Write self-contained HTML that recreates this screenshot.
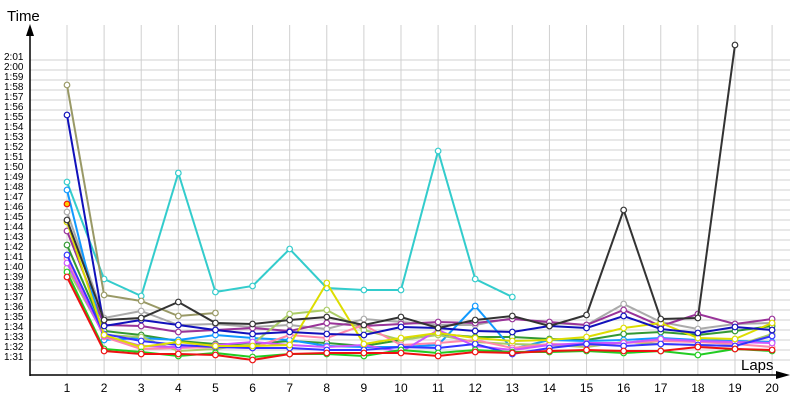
<!DOCTYPE html>
<html><head><meta charset="utf-8"><style>
body{margin:0;background:#fff}
svg{display:block;font-family:"Liberation Sans",sans-serif}
</style></head><body>
<svg id="c" width="800" height="400"></svg>
<script>
const laps=[1,2,3,4,5,6,7,8,9,10,11,12,13,14,15,16,17,18,19,20];
const tickSeconds=[91,92,93,94,95,96,97,98,99,100,101,102,103,104,105,106,107,108,109,110,111,112,113,114,115,116,117,118,119,120,121];
const cyan=[108.8,99.1,97.4,109.7,97.8,98.4,102.1,98.2,98.0,98.0,111.9,99.1,97.3];
const olive=[118.5,97.5,96.9,95.4,95.7];
const darkgray=[105,95,95.2,96.8,94.7,94.6,95,95.3,94.5,95.3,94.2,95,95.4,94.4,95.5,106,95.1,95.2,122.5];
const lightgray=[105.8,95.2,95.9,94.5,94.6,94.3,94.5,94.1,95.1,94.8,94.5,94.5,95.2,94.7,94.5,96.6,94.8,94.1,94.6,94.7];
const purple=[103.9,94.5,94.4,93.8,94,94.2,93.9,94.7,94.4,94.6,94.8,94.7,95.1,94.8,94.5,96,94.4,95.6,94.6,95.1];
const navy=[115.5,94.4,95,94.5,94,93.6,93.8,93.6,93.5,94.3,94.2,93.9,93.8,94.4,94.2,95.4,94.1,93.7,94.3,94];
const green=[102.5,93.9,93.5,92.9,92.6,92.6,92.9,92.7,92.4,93,93.6,93.3,93.3,93.1,93,93.6,93.8,93.5,93.9,94.4];
const skyblue=[108,93,93.2,93,93.5,93.2,93,92.4,92.3,92.3,92.5,96.4,92.1,93,92.9,93,93.2,93,92.9,92.8];
const yellow=[104.8,93.5,92.3,92.8,92.4,92.4,92.5,98.7,92.6,93.2,93.7,93.2,92.9,93,93.3,94.2,94.7,93.2,93.1,94.7];
const lime=[100.2,93.5,93.3,91.9,92.1,92.6,95.6,96,94,93,93.5,92.8,92.6,92.5,92.3,92.8,92.6,92.5,92.4,93.6];
const pink=[101.2,93.3,92.1,92.2,92.3,92.2,93.5,93.2,94.5,92.5,92.7,93,92.2,92.6,92.5,92.7,92.9,92.8,92.6,92.3];
const magenta=[100.7,93.4,92.4,92.3,92.5,92.8,92.5,92.3,92.5,91.8,94,92.4,92,92.5,92.7,92.7,93.1,92.9,92.8,92.7];
const blue=[101.5,93.6,92.9,92.5,92.3,92.2,92.2,92,92,92.3,92.2,92.6,91.6,92.2,92.6,92.4,92.6,92.5,92.4,93.4];
const brightgreen=[99.8,92.1,91.8,91.4,91.7,91.3,91.6,91.6,91.4,92,91.7,92,91.8,91.8,91.9,91.7,91.9,91.5,92.1,91.9];
const red=[99.3,91.9,91.6,91.6,91.5,91,91.6,91.7,91.7,91.7,91.4,91.8,91.7,91.9,92,91.9,91.9,92.3,92.1,92];
const seriesList=[
 ['cyan',cyan,'#33cccc'],['olive',olive,'#999966'],['light-gray',lightgray,'#aaaaaa'],
 ['purple',purple,'#993399'],['green',green,'#339933'],['sky-blue',skyblue,'#1199ff'],
 ['lime',lime,'#aacc66'],['pink',pink,'#ff88aa'],['magenta',magenta,'#cc55ff'],
 ['blue',blue,'#3333ff'],['yellow',yellow,'#dddd00'],['bright-green',brightgreen,'#22cc22'],
 ['red',red,'#ee1111'],['navy',navy,'#1111bb'],['dark-gray',darkgray,'#333333']];
const NS='http://www.w3.org/2000/svg',svg=document.getElementById('c');
function X(l){return 67+(l-1)*37.11;}
function Y(s){return 360-(s-91)*10;}
function el(t,a,p){const e=document.createElementNS(NS,t);for(const k in a)e.setAttribute(k,a[k]);(p||svg).appendChild(e);return e;}
const grid=el('g',{});


tickSeconds.forEach(s=>{
 const l=el('line',{x1:30,x2:790,y1:Y(s),y2:Y(s),stroke:'#d0d0d0','stroke-width':1},grid);
 
 
 const t=el('text',{x:4,y:Y(s)-0,'font-size':10,fill:'#000'});
 t.textContent=Math.floor(s/60)+':'+String(s%60).padStart(2,'0');
 
 
});
laps.forEach(l=>{
 const g=el('line',{x1:X(l),x2:X(l),y1:25,y2:375,stroke:'#d0d0d0','stroke-width':1},grid);
 
 
 const t=el('text',{x:X(l),y:392,'font-size':12,'text-anchor':'middle'});
 t.textContent=l;
 
 
});
const ax=el('path',{d:'M30,376 L30,30 M30,375 L780,375',stroke:'#000','stroke-width':1.5,fill:'none'});


const ar=el('path',{d:'M26,36 L30,24 L34,36 Z M776,371 L790,375 L776,379 Z',fill:'#000'});


const tt=el('text',{x:7,y:21,'font-size':15,fill:'#000'});tt.textContent='Time';


const lt=el('text',{x:741,y:370,'font-size':15,fill:'#000'});lt.textContent='Laps';


seriesList.forEach(([n,d,c])=>{
 const g=el('g',{});
 
 
 const p=el('polyline',{points:d.map((v,i)=>X(laps[i])+','+Y(v)).join(' '),fill:'none',stroke:c,'stroke-width':2},g);
 
 
 d.forEach((v,i)=>{
  const m=el('circle',{cx:X(laps[i]),cy:Y(v),r:2.8,fill:'#fff',stroke:c,'stroke-width':1.2},g);
  
  
 });
});
const sp=el('circle',{cx:X(1),cy:Y(106.6),r:2.8,fill:'#ffcc00',stroke:'#ee1111','stroke-width':1.2});


</script>
</body></html>
